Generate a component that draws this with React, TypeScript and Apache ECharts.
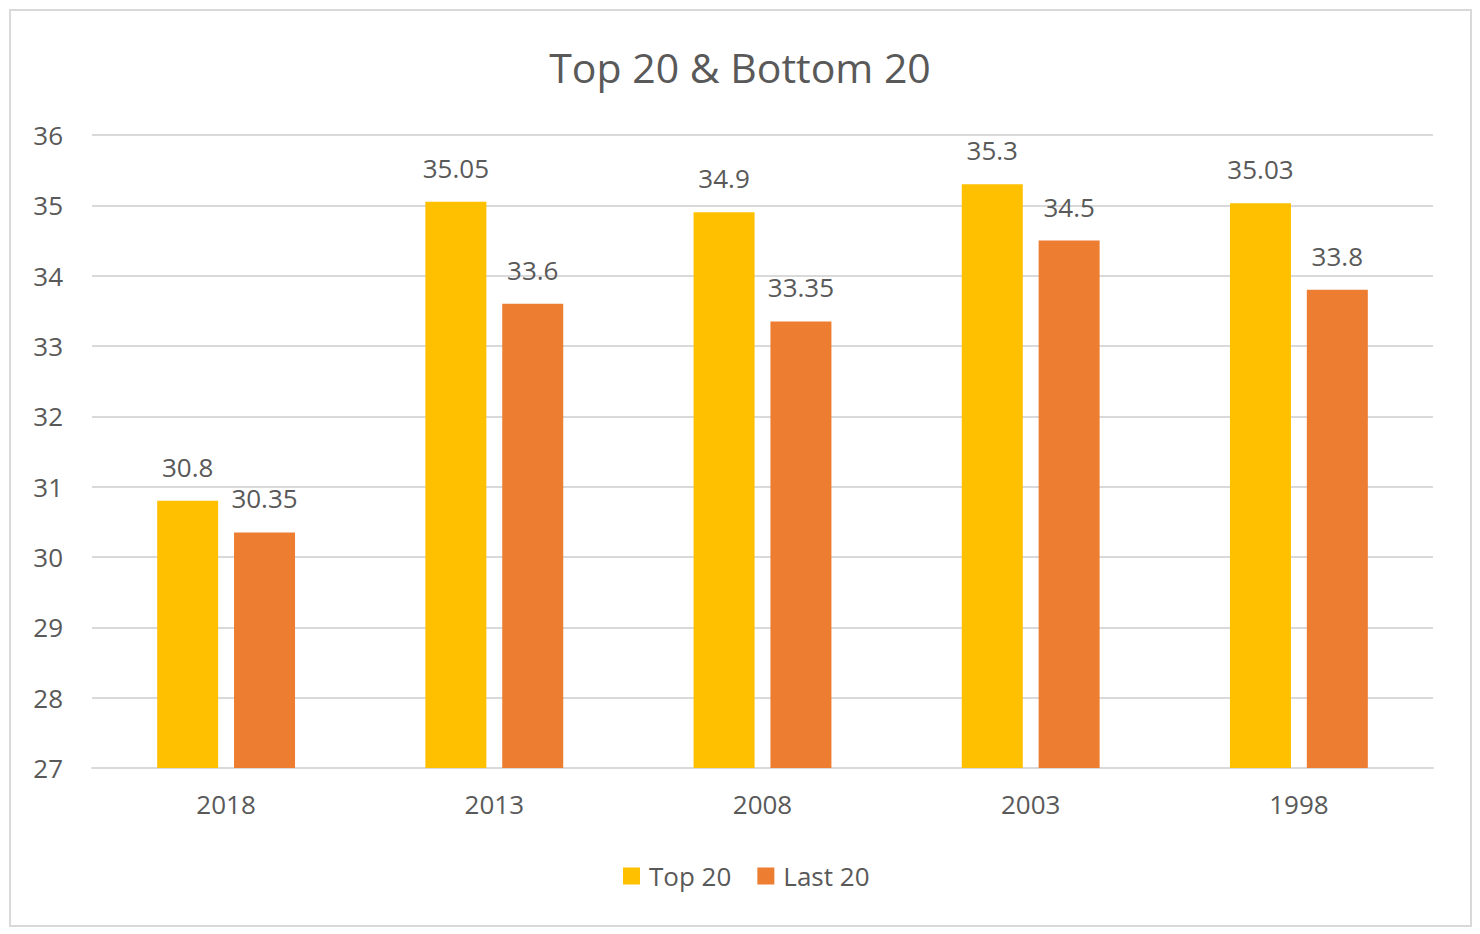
import React, { useEffect, useRef } from "react";
import * as echarts from "echarts";

const categories = ["2018", "2013", "2008", "2003", "1998"];
const top20 = [30.8, 35.05, 34.9, 35.3, 35.03];
const last20 = [30.35, 33.6, 33.35, 34.5, 33.8];
const seriesNames = ["Top 20", "Last 20"];
const titleText = "Top 20 & Bottom 20";

const FONT = "'Open Sans', 'Noto Sans', sans-serif";
const TEXT = "#595959";
const GRID = "#D9D9D9";

export default function App() {
  const ref = useRef<HTMLDivElement>(null);
  useEffect(() => {
    if (!ref.current) return;
    const chart = echarts.init(ref.current, null, { renderer: "svg" });
    const label = {
      show: true,
      position: "top",
      distance: 21,
      color: TEXT,
      fontSize: 26,
      fontFamily: FONT,
    };
    chart.setOption({
      animation: false,
      backgroundColor: "#ffffff",
      textStyle: { fontFamily: FONT },
      title: {
        text: titleText,
        left: "center",
        top: 41,
        textStyle: { color: TEXT, fontSize: 41, fontWeight: "normal", fontFamily: FONT },
      },
      legend: {
        data: seriesNames,
        left: 618,
        top: 858,
        icon: "rect",
        itemWidth: 17,
        itemHeight: 17,
        itemGap: 26,
        textStyle: { color: TEXT, fontSize: 26, fontFamily: FONT, padding: [0, 0, 0, 4] },
      },
      graphic: [
        {
          type: "rect",
          shape: { x: 10, y: 10, width: 1461, height: 916 },
          style: { fill: "none", stroke: GRID, lineWidth: 2 },
          silent: true,
        },
      ],
      grid: { left: 92, right: 47, top: 135, bottom: 166 },
      xAxis: {
        type: "category",
        data: categories,
        axisLine: { show: true, lineStyle: { color: GRID, width: 2 } },
        axisTick: { show: false },
        axisLabel: { color: TEXT, fontSize: 26, fontFamily: FONT, margin: 23 },
      },
      yAxis: {
        type: "value",
        min: 27,
        max: 36,
        interval: 1,
        axisLine: { show: false },
        axisTick: { show: false },
        splitLine: { lineStyle: { color: GRID, width: 2 } },
        axisLabel: { color: TEXT, fontSize: 26, fontFamily: FONT, margin: 29 },
      },
      series: [
        {
          name: seriesNames[0],
          type: "bar",
          data: top20,
          barWidth: 61,
          barGap: "26%",
          itemStyle: { color: "#FFC000" },
          label,
        },
        {
          name: seriesNames[1],
          type: "bar",
          data: last20,
          barWidth: 61,
          barGap: "26%",
          itemStyle: { color: "#ED7D31" },
          label,
        },
      ],
    });
    return () => chart.dispose();
  }, []);
  return (
    <div
      ref={ref}
      style={{ position: "absolute", left: 0, top: 0, width: 1480, height: 934, background: "#fff" }}
    />
  );
}
